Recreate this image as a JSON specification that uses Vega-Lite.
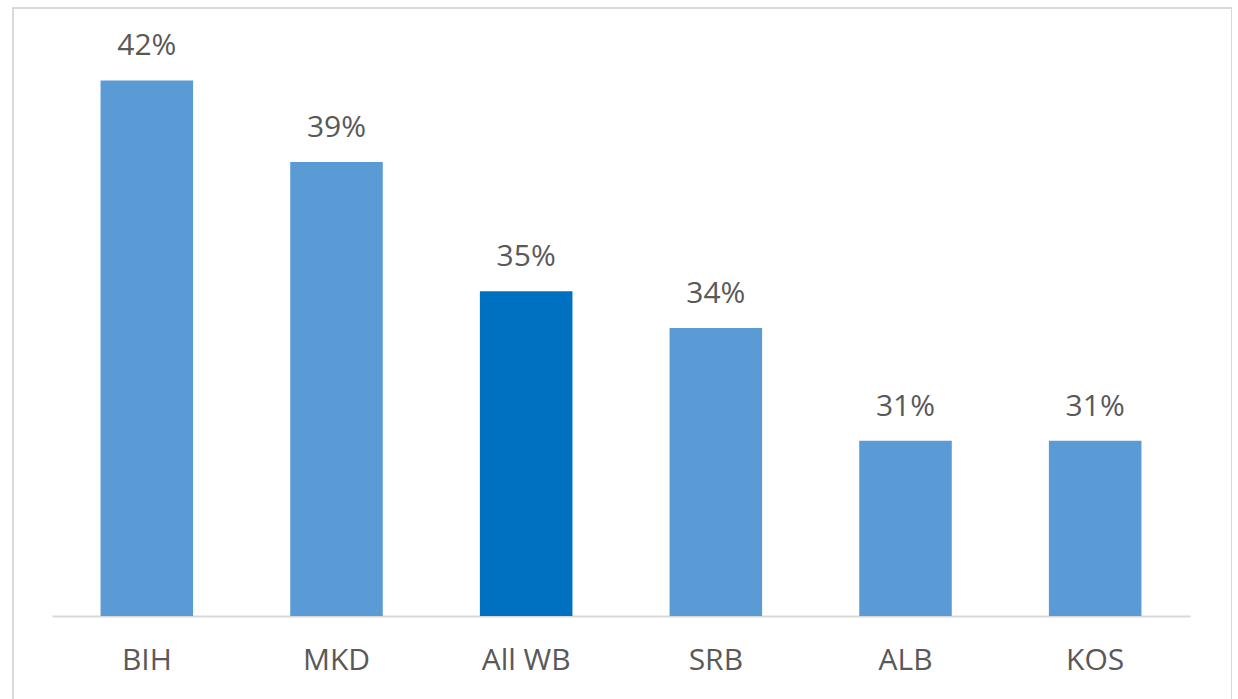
{
  "$schema": "https://vega.github.io/schema/vega-lite/v6.json",
  "width": 1219,
  "height": 700,
  "autosize": {"type": "none"},
  "padding": {"left": 13, "top": 8, "right": 0, "bottom": 0},
  "background": "white",
  "config": {"view": {"stroke": "#D9D9D9", "strokeWidth": 2}, "font": "Open Sans"},
  "data": {
    "values": [
      {"country": "BIH", "share": 0.4196},
      {"country": "MKD", "share": 0.3938},
      {"country": "All WB", "share": 0.3528},
      {"country": "SRB", "share": 0.3412},
      {"country": "ALB", "share": 0.3055},
      {"country": "KOS", "share": 0.3055}
    ]
  },
  "encoding": {
    "x": {
      "field": "country",
      "type": "nominal",
      "sort": null,
      "scale": {"range": [39, 1177], "paddingInner": 0.512, "paddingOuter": 0.256},
      "axis": {
        "title": null,
        "labelAngle": 0,
        "ticks": false,
        "grid": false,
        "domainColor": "#D9D9D9",
        "domainWidth": 2,
        "labelFontSize": 30,
        "labelColor": "#595959",
        "labelPadding": 53,
        "labelBaseline": "alphabetic",
        "offset": -92
      }
    },
    "y": {
      "field": "share",
      "type": "quantitative",
      "scale": {"domain": [0.25, 0.44], "range": [608, 8], "zero": false, "nice": false},
      "axis": null
    }
  },
  "layer": [
    {
      "mark": {"type": "bar"},
      "encoding": {
        "y2": {"datum": 0.25},
        "color": {
          "condition": {"test": "datum.country === 'All WB'", "value": "#0070C0"},
          "value": "#5B9BD5"
        }
      }
    },
    {
      "mark": {"type": "text", "dy": -25, "baseline": "alphabetic", "fontSize": 30, "color": "#595959"},
      "encoding": {"text": {"field": "share", "type": "quantitative", "format": ".0%"}}
    }
  ]
}
